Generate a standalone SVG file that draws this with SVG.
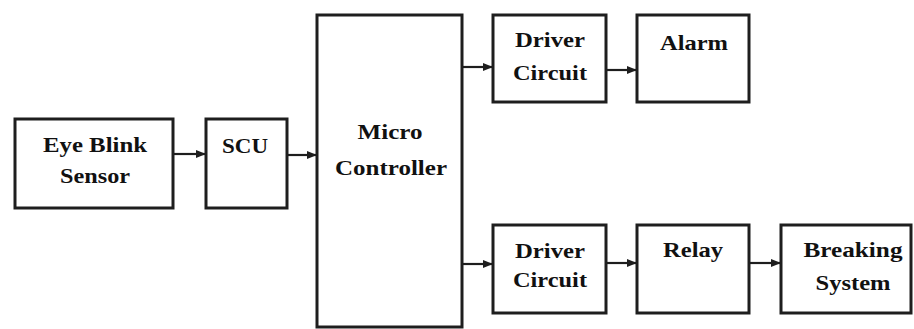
<svg xmlns="http://www.w3.org/2000/svg" width="914" height="329" viewBox="0 0 914 329">
<style>
.box{fill:#fff;stroke:#1e1e1e;stroke-width:3}
.t{font-family:"Liberation Serif","Times New Roman",serif;font-weight:bold;font-size:22px;fill:#111;text-anchor:middle}
.c{stroke:#1e1e1e;stroke-width:2.2;fill:none;marker-end:url(#ah)}
</style>
<defs>
<marker id="ah" markerUnits="userSpaceOnUse" markerWidth="10" markerHeight="8" refX="9" refY="4" orient="auto">
<path d="M0,0 L10,4 L0,8 Z" fill="#1e1e1e"/>
</marker>
</defs>
<rect width="914" height="329" fill="#fff"/>
<g id="connectors">
<line class="c" x1="173" y1="154" x2="205" y2="154"/>
<line class="c" x1="287" y1="155" x2="316" y2="155"/>
<line class="c" x1="462" y1="67" x2="492" y2="67"/>
<line class="c" x1="462" y1="264" x2="492" y2="264"/>
<line class="c" x1="606" y1="70" x2="636" y2="70"/>
<line class="c" x1="606" y1="263" x2="636" y2="263"/>
<line class="c" x1="749" y1="263" x2="780" y2="263"/>
</g>
<g id="eye-blink-sensor">
<rect class="box" x="15" y="119" width="158" height="89"/>
<text class="t" x="95" y="152" textLength="104" lengthAdjust="spacingAndGlyphs">Eye Blink</text>
<text class="t" x="95" y="183" textLength="70" lengthAdjust="spacingAndGlyphs">Sensor</text>
</g>
<g id="scu">
<rect class="box" x="206" y="119" width="81" height="89"/>
<text class="t" x="245" y="153" textLength="46" lengthAdjust="spacingAndGlyphs">SCU</text>
</g>
<g id="micro-controller">
<rect class="box" x="317" y="15" width="145" height="312"/>
<text class="t" x="390" y="139" textLength="65" lengthAdjust="spacingAndGlyphs">Micro</text>
<text class="t" x="391" y="175" textLength="112" lengthAdjust="spacingAndGlyphs">Controller</text>
</g>
<g id="driver-circuit-1">
<rect class="box" x="493" y="15" width="113" height="87"/>
<text class="t" x="550" y="47" textLength="70" lengthAdjust="spacingAndGlyphs">Driver</text>
<text class="t" x="550" y="80" textLength="74" lengthAdjust="spacingAndGlyphs">Circuit</text>
</g>
<g id="alarm">
<rect class="box" x="637" y="15" width="112" height="87"/>
<text class="t" x="694" y="50" textLength="68" lengthAdjust="spacingAndGlyphs">Alarm</text>
</g>
<g id="driver-circuit-2">
<rect class="box" x="493" y="225" width="113" height="88"/>
<text class="t" x="550" y="258" textLength="70" lengthAdjust="spacingAndGlyphs">Driver</text>
<text class="t" x="550" y="287" textLength="74" lengthAdjust="spacingAndGlyphs">Circuit</text>
</g>
<g id="relay">
<rect class="box" x="637" y="225" width="112" height="88"/>
<text class="t" x="693" y="257" textLength="60" lengthAdjust="spacingAndGlyphs">Relay</text>
</g>
<g id="breaking-system">
<rect class="box" x="781" y="225" width="130" height="88"/>
<text class="t" x="853" y="257" textLength="99" lengthAdjust="spacingAndGlyphs">Breaking</text>
<text class="t" x="853" y="290" textLength="75" lengthAdjust="spacingAndGlyphs">System</text>
</g>
</svg>
